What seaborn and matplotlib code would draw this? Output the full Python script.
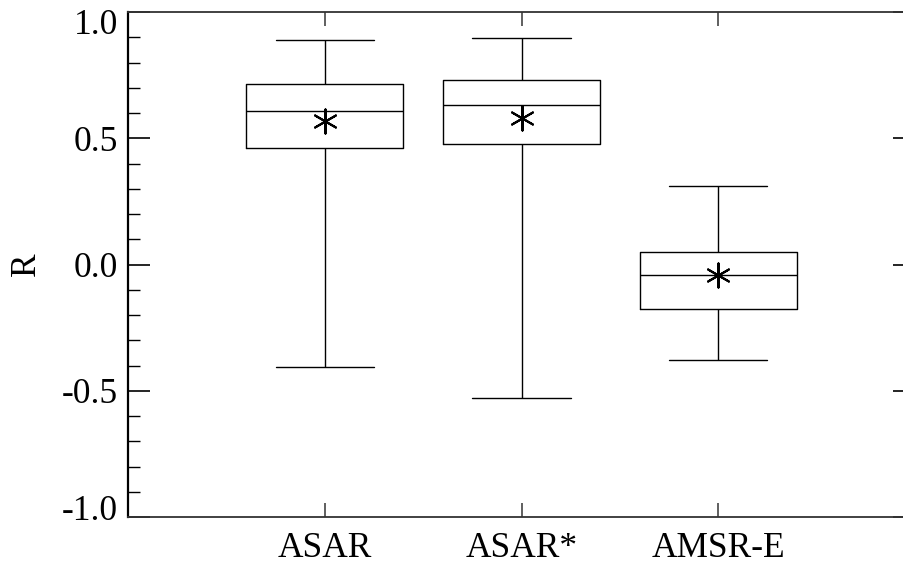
import numpy as np
import pandas as pd
import matplotlib
matplotlib.use("Agg")
import matplotlib.pyplot as plt
import matplotlib.transforms as mtransforms
from matplotlib.ticker import MultipleLocator
import seaborn as sns

# Correlation summaries per product
categories = ["ASAR", "ASAR*", "AMSR-E"]
r_min = [-0.406, -0.528, -0.380]
r_q1 = [0.463, 0.476, -0.175]
r_median = [0.607, 0.631, -0.041]
r_q3 = [0.714, 0.729, 0.050]
r_max = [0.890, 0.899, 0.312]
r_mean = [0.570, 0.582, -0.041]

yticks = [-1.0, -0.5, 0.0, 0.5, 1.0]
ytick_labels = ["-1.0", "-0.5", "0.0", "0.5", "1.0"]

# Five-number summary rows; with whiskers at 0/100 percentiles the
# box plot reproduces min, quartiles, median and max exactly.
rows = []
for i, c in enumerate(categories):
    for v in (r_min[i], r_q1[i], r_median[i], r_q3[i], r_max[i]):
        rows.append({"product": c, "R": v})
df = pd.DataFrame(rows)

sns.set_theme(style="white")
plt.rcParams["font.family"] = ["Liberation Serif", "DejaVu Serif"]
plt.rcParams["text.color"] = "black"
plt.rcParams["axes.labelcolor"] = "black"

fig = plt.figure(figsize=(9.04, 5.63), dpi=100)
ax = fig.add_axes([128 / 904, 1 - 517 / 563, (915 - 128) / 904, (517 - 12) / 563])

sns.boxplot(
    data=df, x="product", y="R", order=categories, ax=ax,
    whis=(0, 100), width=0.8, fill=False, color="black", linewidth=1.0,
    showfliers=False,
)
for line in ax.lines:
    line.set_color("black")
    line.set_linewidth(1.0)
    xd = np.asarray(line.get_xdata(), dtype=float)
    yd = np.asarray(line.get_ydata(), dtype=float)
    # caps: short horizontal lines at the whisker ends, half the box width
    if len(xd) == 2 and xd[0] != xd[1] and yd[0] == yd[1]:
        xm = (xd[0] + xd[1]) / 2
        if abs(xd[1] - xd[0]) < 0.79:
            line.set_xdata([xm - 0.25, xm + 0.25])
for p in ax.patches:
    p.set_edgecolor("black")
    p.set_linewidth(1.0)

sns.scatterplot(
    x=categories, y=r_mean, ax=ax, marker=(6, 2, 0), s=300,
    color="black", linewidth=1.5, zorder=5, legend=False,
)

ax.set_xlim(-1, 3)
ax.set_ylim(-1.0, 1.0)
ax.set_yticks(yticks)
ax.set_yticklabels(ytick_labels)
ax.yaxis.set_minor_locator(MultipleLocator(0.1))
ax.set_xlabel("")
ax.set_ylabel("R", fontsize=25.5, labelpad=14, color="black")

ax.tick_params(axis="y", which="major", direction="in", length=16, width=1.2,
               labelsize=25.5, pad=7, left=True, right=True, color="black",
               labelcolor="black")
ax.tick_params(axis="y", which="minor", direction="in", length=8.5, width=1.0,
               left=True, right=False, color="black")
ax.tick_params(axis="x", which="major", direction="in", length=10, width=1.2,
               labelsize=25.5, pad=10.5, bottom=True, top=True, color="#444444",
               labelcolor="black")

# keep the end labels inside the frame height
labels = ax.get_yticklabels()
labels[0].set_transform(labels[0].get_transform()
                        + mtransforms.ScaledTranslation(0, 10 / 100, fig.dpi_scale_trans))
labels[-1].set_transform(labels[-1].get_transform()
                         + mtransforms.ScaledTranslation(0, -9 / 100, fig.dpi_scale_trans))

for side, sp in ax.spines.items():
    sp.set_visible(True)
    sp.set_color("#333333")
    sp.set_linewidth(1.3)
ax.spines["left"].set_color("black")
ax.spines["left"].set_linewidth(1.6)

fig.savefig("out.png", dpi=100, facecolor="white")
